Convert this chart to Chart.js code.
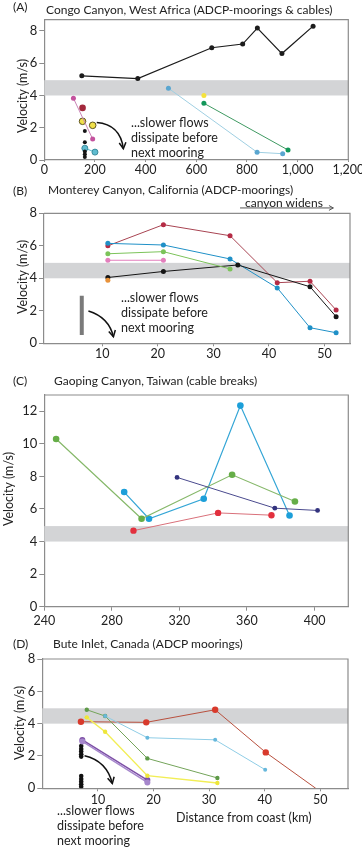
<!DOCTYPE html>
<html>
<head>
<meta charset="utf-8">
<script src="https://cdn.jsdelivr.net/npm/chart.js@4.4.1/dist/chart.umd.min.js"></script>
<style>
  body { margin: 0; width: 362px; height: 850px; background: #fff; position: relative; overflow: hidden;
         font-family: Lato, "Open Sans", sans-serif; color: #222; }
  canvas { position: absolute; left: 0; }
  .t { position: absolute; white-space: nowrap; font-size: 12px; line-height: 14px; }
  .note { position: absolute; white-space: nowrap; font-size: 12.5px; line-height: 14.8px; }
  .ytitle { position: absolute; white-space: nowrap; font-size: 12.5px; line-height: 14px;
            transform: translate(-50%, -50%) rotate(-90deg); }
</style>
</head>
<body>
<canvas id="chartA" width="362" height="182" style="top:0"></canvas>
<canvas id="chartB" width="362" height="182" style="top:180px"></canvas>
<canvas id="chartC" width="362" height="248" style="top:380px"></canvas>
<canvas id="chartD" width="362" height="220" style="top:630px"></canvas>

<div class="t" style="left:13px;top:0px">(A)</div>
<div class="t" style="left:46px;top:3px">Congo Canyon, West Africa (ADCP-moorings &amp; cables)</div>
<div class="t" style="left:13px;top:184px">(B)</div>
<div class="t" style="left:48px;top:183px">Monterey Canyon, California (ADCP-moorings)</div>
<div class="t" style="left:13px;top:374px">(C)</div>
<div class="t" style="left:54px;top:374px">Gaoping Canyon, Taiwan (cable breaks)</div>
<div class="t" style="left:13px;top:637px">(D)</div>
<div class="t" style="left:53px;top:637px">Bute Inlet, Canada (ADCP moorings)</div>

<div class="ytitle" style="left:23px;top:96px">Velocity (m/s)</div>
<div class="ytitle" style="left:23px;top:277px">Velocity (m/s)</div>
<div class="ytitle" style="left:9px;top:489px">Velocity (m/s)</div>
<div class="ytitle" style="left:20px;top:723px">Velocity (m/s)</div>

<div class="note" style="left:131px;top:116px">...slower flows<br>dissipate before<br>next mooring</div>
<div class="note" style="left:121px;top:291px">...slower flows<br>dissipate before<br>next mooring</div>
<div class="t" style="left:245px;top:196px">canyon widens</div>
<div class="note" style="left:57px;top:804px">...slower flows<br>dissipate before<br>next mooring</div>
<div class="note" style="left:176px;top:811px">Distance from coast (km)</div>

<script>
// (A) Congo Canyon, West Africa
const congoTicksX = [0, 200, 400, 600, 800, 1000, 1200];
const congoTicksY = [0, 2, 4, 6, 8];
const congoBlackX = [148, 369, 661, 783, 841, 938, 1061];
const congoBlackY = [5.22, 5.05, 6.96, 7.19, 8.18, 6.6, 8.3];
const congoPinkX = [115, 191];
const congoPinkY = [3.83, 1.3];
const congoRedX = [151];
const congoRedY = [3.23];
const congoRingX = [151, 191];
const congoRingY = [2.4, 2.15];
const congoDotsX = [160, 160, 160, 160, 160];
const congoDotsY = [1.8, 1.1, 0.52, 0.36, 0.18];
const congoCyanX = [160, 200];
const congoCyanY = [0.73, 0.49];
const congoLightBlueX = [490, 840, 941];
const congoLightBlueY = [4.45, 0.48, 0.39];
const congoYellowX = [630];
const congoYellowY = [4.0];
const congoGreenX = [630, 962];
const congoGreenY = [3.52, 0.62];

// (B) Monterey Canyon, California
const montTicksX = [10, 20, 30, 40, 50];
const montTicksY = [0, 2, 4, 6, 8];
const montRedX = [11, 21, 33, 41.5, 47.4, 52.1];
const montRedY = [6.0, 7.3, 6.62, 3.73, 3.82, 2.05];
const montBlueX = [11, 21, 33, 41.5, 47.4, 52.1];
const montBlueY = [6.15, 6.05, 5.19, 3.41, 0.96, 0.65];
const montGreenX = [11, 21, 33];
const montGreenY = [5.51, 5.64, 4.58];
const montPinkX = [11, 21];
const montPinkY = [5.11, 5.11];
const montBlackX = [11, 21, 34.4, 47.4, 52.1];
const montBlackY = [4.05, 4.42, 4.82, 3.48, 1.64];
const montOrangeX = [11];
const montOrangeY = [3.88];
const montBarX = [6.3, 6.3];
const montBarY = [2.93, 0.51];

// (C) Gaoping Canyon, Taiwan
const gaoTicksX = [240, 280, 320, 360, 400];
const gaoTicksY = [0, 2, 4, 6, 8, 10, 12];
const gaoGreenX = [247, 297.6, 351.2, 388.4];
const gaoGreenY = [10.3, 5.4, 8.1, 6.46];
const gaoBlueX = [287.3, 302, 334.4, 356.1, 385.2];
const gaoBlueY = [7.04, 5.4, 6.63, 12.35, 5.6];
const gaoNavyX = [318.6, 376.5, 401.8];
const gaoNavyY = [7.94, 6.05, 5.91];
const gaoRedX = [292.8, 342.9, 374.5];
const gaoRedY = [4.67, 5.76, 5.62];

// (D) Bute Inlet, Canada
const buteTicksX = [10, 20, 30, 40, 50];
const buteTicksY = [0, 2, 4, 6, 8];
const buteRedX = [6.95, 18.7, 31.1, 40.2, 49.2];
const buteRedY = [4.12, 4.08, 4.86, 2.22, 0];
const buteGreenX = [8.0, 11.3, 18.9, 31.5];
const buteGreenY = [4.86, 4.47, 1.85, 0.64];
const buteLightBlueX = [11.3, 18.9, 31.1, 40.1];
const buteLightBlueY = [4.47, 3.13, 3.0, 1.15];
const buteYellowX = [8.0, 11.3, 18.9, 31.5];
const buteYellowY = [4.39, 3.5, 0.78, 0.33];
const butePurpleX = [7.2, 18.9];
const butePurpleY = [2.99, 0.51];
const buteLavenderX = [7.2, 18.9];
const buteLavenderY = [2.9, 0.36];
const buteDotsX = [7, 7, 7, 7, 7, 7, 7, 7, 7, 7];
const buteDotsY = [2.62, 2.43, 2.27, 2.1, 1.96, 0.76, 0.58, 0.41, 0.25, 0.1];

// velocity band (m/s) shaded in every panel
const bandLow = 4, bandHigh = 4.95;

const FONT = 'Lato, "Open Sans", sans-serif';
const AXIS = '#8c8c8c';

function pts(xs, ys) {
  return xs.map((x, i) => ({ x: x, y: ys[i] }));
}

function series(xs, ys, color, extra) {
  return Object.assign({
    data: pts(xs, ys), showLine: true, borderColor: color, borderWidth: 1,
    pointBackgroundColor: color, pointBorderColor: color, pointBorderWidth: 0, pointRadius: 2.5
  }, extra || {});
}

function dots(xs, ys, color, extra) {
  return series(xs, ys, color, Object.assign({ showLine: false }, extra || {}));
}

// band, frame and arrows drawn through the chart's scales
const panelDecor = {
  id: 'panelDecor',
  beforeDatasetsDraw(chart, args, o) {
    const { ctx, chartArea: a, scales: { y } } = chart;
    const top = y.getPixelForValue(bandHigh), bot = y.getPixelForValue(bandLow);
    ctx.save();
    ctx.fillStyle = '#d3d4d6';
    ctx.fillRect(a.left, top, a.right - a.left, bot - top);
    ctx.restore();
  },
  afterDraw(chart, args, o) {
    const { ctx, chartArea: a, scales: { x, y } } = chart;
    ctx.save();
    ctx.strokeStyle = AXIS;
    ctx.lineWidth = 1.2;
    ctx.beginPath();
    ctx.moveTo(a.left, a.top);
    ctx.lineTo(a.right, a.top);
    ctx.lineTo(a.right, a.bottom);
    ctx.stroke();

    (o.arrows || []).forEach(ar => {
      const p = q => [x.getPixelForValue(q[0]), y.getPixelForValue(q[1])];
      const s = p(ar.from), e = p(ar.to);
      const c = ar.ctrl ? p(ar.ctrl) : s;
      ctx.strokeStyle = ar.color || '#111';
      ctx.lineWidth = ar.width || 1.5;
      ctx.beginPath();
      ctx.moveTo(s[0], s[1]);
      if (ar.ctrl) ctx.quadraticCurveTo(c[0], c[1], e[0], e[1]);
      else ctx.lineTo(e[0], e[1]);
      ctx.stroke();
      const ang = Math.atan2(e[1] - c[1], e[0] - c[0]);
      const hl = ar.head || 7;
      ctx.beginPath();
      ctx.moveTo(e[0] - hl * Math.cos(ang - 0.5), e[1] - hl * Math.sin(ang - 0.5));
      ctx.lineTo(e[0], e[1]);
      ctx.lineTo(e[0] - hl * Math.cos(ang + 0.5), e[1] - hl * Math.sin(ang + 0.5));
      ctx.stroke();
    });
    ctx.restore();
  }
};

function makeChart(id, cfg) {
  return new Chart(document.getElementById(id), {
    type: 'scatter',
    data: { datasets: cfg.datasets },
    options: {
      responsive: false,
      animation: false,
      events: [],
      layout: { padding: { top: cfg.top, right: cfg.right, left: 0, bottom: 0 } },
      plugins: { legend: { display: false }, tooltip: { enabled: false }, panelDecor: { arrows: cfg.arrows } },
      scales: {
        x: {
          type: 'linear', min: cfg.xMin, max: cfg.xMax,
          afterBuildTicks(s) { s.ticks = cfg.xTicks.map(v => ({ value: v })); },
          afterFit(s) { s.height = cfg.xH; s.paddingLeft = 0; s.paddingRight = 0; },
          grid: { drawOnChartArea: false, drawTicks: true, tickLength: cfg.xTickLen, color: AXIS },
          border: { color: AXIS, width: 1.2 },
          ticks: { padding: cfg.xPad, color: '#222', maxRotation: 0, autoSkip: false, font: { family: FONT, size: 12.5 } }
        },
        y: {
          type: 'linear', min: 0, max: cfg.yMax,
          afterBuildTicks(s) { s.ticks = cfg.yTicks.map(v => ({ value: v })); },
          afterFit(s) { s.width = cfg.left; s.paddingTop = 0; s.paddingBottom = 0; },
          grid: { drawOnChartArea: false, drawTicks: true, tickLength: 5, color: AXIS },
          border: { color: AXIS, width: 1.2 },
          ticks: { padding: 2, color: '#222', font: { family: FONT, size: 13 } }
        }
      }
    },
    plugins: [panelDecor]
  });
}

makeChart('chartA', {
  top: 19.7, right: 13.7, left: 44.3, xH: 22, xTickLen: 2, xPad: 0,
  xMin: 0, xMax: 1200, yMax: 8.7, xTicks: congoTicksX, yTicks: congoTicksY,
  arrows: [{ from: [207, 2.32], ctrl: [300, 2.2], to: [312, 0.7] }],
  datasets: [
    series(congoLightBlueX, congoLightBlueY, '#9fcfe2', { pointBackgroundColor: '#5aa6d0', pointBorderColor: '#5aa6d0' }),
    series(congoGreenX, congoGreenY, '#3f9a62', { pointBackgroundColor: '#13975a', pointBorderColor: '#13975a' }),
    dots(congoYellowX, congoYellowY, '#f5e23c'),
    series(congoPinkX, congoPinkY, '#c983b6', { pointBackgroundColor: '#c4529e', pointBorderColor: '#c4529e' }),
    dots(congoRedX, congoRedY, '#a3283c', { pointRadius: 3.3 }),
    dots(congoRingX, congoRingY, '#f0e04a', { pointRadius: 3.3, pointBorderWidth: 1, pointBorderColor: '#5e5420' }),
    dots(congoDotsX, congoDotsY, '#151515', { pointRadius: 2 }),
    series(congoCyanX, congoCyanY, '#5fbcd0', { pointRadius: 3, pointBorderWidth: 1, pointBorderColor: '#3b8c9c' }),
    series(congoBlackX, congoBlackY, '#1c1c1c', { borderWidth: 1.2 })
  ]
});

makeChart('chartB', {
  top: 33.3, right: 12, left: 44, xH: 18.7, xTickLen: 3, xPad: 0,
  xMin: -0.5, xMax: 54.6, yMax: 8, xTicks: montTicksX, yTicks: montTicksY,
  arrows: [
    { from: [7.5, 1.99], ctrl: [11.2, 1.6], to: [12, 0.4] },
    { from: [34.8, 8.33], to: [51.6, 8.33], color: '#555', width: 1, head: 5 }
  ],
  datasets: [
    series(montBarX, montBarY, '#7a7a7a', { borderWidth: 4, pointRadius: 0, borderCapStyle: 'butt' }),
    dots(montOrangeX, montOrangeY, '#e8923a'),
    series(montPinkX, montPinkY, '#e37fbd'),
    series(montGreenX, montGreenY, '#7cc35a'),
    series(montBlackX, montBlackY, '#151515'),
    series(montBlueX, montBlueY, '#1f90c7'),
    series(montRedX, montRedY, '#a84452', { pointBackgroundColor: '#b52b45', pointBorderColor: '#b52b45' })
  ]
});

makeChart('chartC', {
  top: 15, right: 13.7, left: 44.3, xH: 21.3, xTickLen: 4, xPad: 3,
  xMin: 240, xMax: 420, yMax: 13, xTicks: gaoTicksX, yTicks: gaoTicksY,
  arrows: [],
  datasets: [
    series(gaoRedX, gaoRedY, '#d9707a', { pointBackgroundColor: '#e2303e', pointBorderColor: '#e2303e', pointRadius: 3.2 }),
    series(gaoNavyX, gaoNavyY, '#4a4a8e', { pointBackgroundColor: '#33337e', pointBorderColor: '#33337e', pointRadius: 2.4 }),
    series(gaoGreenX, gaoGreenY, '#86b86a', { pointBackgroundColor: '#66ae48', pointBorderColor: '#66ae48', pointRadius: 3.3, borderWidth: 1.2 }),
    series(gaoBlueX, gaoBlueY, '#35a6d6', { pointBackgroundColor: '#1c9fd9', pointBorderColor: '#1c9fd9', pointRadius: 3.3, borderWidth: 1.2 })
  ]
});

makeChart('chartD', {
  top: 29, right: 14, left: 42.3, xH: 61.7, xTickLen: 3, xPad: 1,
  xMin: 0, xMax: 55, yMax: 8, xTicks: buteTicksX, yTicks: buteTicksY,
  arrows: [{ from: [7.6, 2.02], ctrl: [11.6, 1.7], to: [12.6, 0.3] }],
  datasets: [
    series(buteLightBlueX, buteLightBlueY, '#8fcde6', { pointBackgroundColor: '#67b8dc', pointBorderColor: '#67b8dc', pointRadius: 2 }),
    series(buteYellowX, buteYellowY, '#f2ee55', { pointBackgroundColor: '#eee63a', pointBorderColor: '#eee63a', pointRadius: 2.2, borderWidth: 1.4 }),
    series(buteGreenX, buteGreenY, '#74a45a', { pointBackgroundColor: '#5e9a48', pointBorderColor: '#5e9a48', pointRadius: 2.2 }),
    series(buteLavenderX, buteLavenderY, '#a687cc', { pointRadius: 3, borderWidth: 1.5 }),
    series(butePurpleX, butePurpleY, '#7d4fa6', { pointRadius: 3, borderWidth: 1.5 }),
    dots(buteDotsX, buteDotsY, '#111', { pointRadius: 2.3 }),
    series(buteRedX, buteRedY, '#b8503e', { pointBackgroundColor: '#d83a2c', pointBorderColor: '#d83a2c', pointRadius: [3.2, 3.2, 3.2, 3.2, 0] })
  ]
});
</script>
</body>
</html>
